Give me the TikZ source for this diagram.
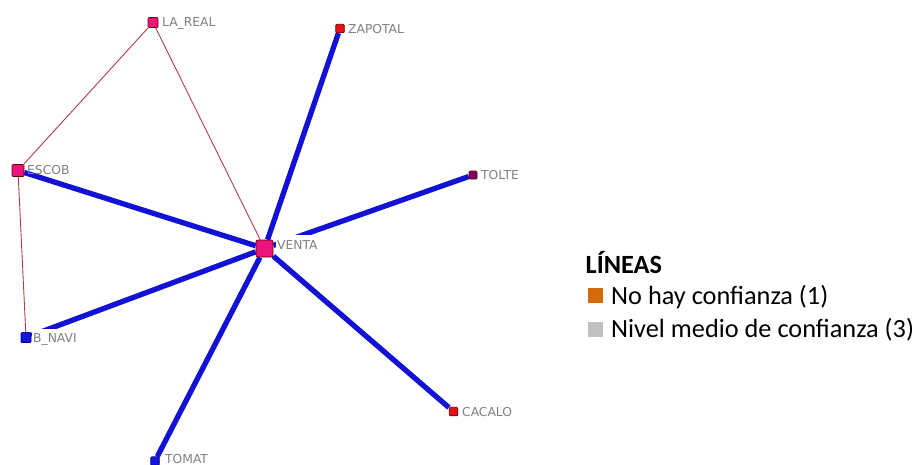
\documentclass[tikz,border=0pt]{standalone}
\usepackage{fontspec}
\setmainfont{DejaVu Sans}
\newfontfamily\legfont{Carlito}
\pgfdeclarelayer{bg}
\pgfsetlayers{bg,main}
\definecolor{magn}{RGB}{235,20,125}
\definecolor{redn}{RGB}{228,18,24}
\definecolor{blun}{RGB}{20,20,225}
\definecolor{purn}{RGB}{128,0,100}
\definecolor{tie}{RGB}{178,62,72}
\definecolor{strong}{RGB}{18,18,215}
\definecolor{lblgray}{RGB}{128,128,128}
\definecolor{orangeleg}{RGB}{208,106,10}
\definecolor{grayleg}{RGB}{192,192,192}
\tikzset{
  actor/.style={rectangle, inner sep=0pt, draw=black!60!red, line width=0.7pt, rounded corners=1pt},
  lbl/.style={anchor=base west, inner xsep=1pt, inner ysep=0pt, text height=14pt, text depth=1pt,
              fill=white, text=lblgray, font=\fontsize{12.3}{14}\selectfont},
  weak/.style={draw=tie, line width=0.9pt},
  thick/.style={draw=strong, line width=5.3pt},
  legtext/.style={anchor=base west, inner sep=0pt, font=\legfont\fontsize{26.3}{30}\selectfont},
  legsq/.style={rectangle, inner sep=0pt, minimum size=15pt, anchor=north west}
}
\begin{document}
\begin{tikzpicture}[x=1pt,y=-1pt]
\useasboundingbox (0,0) rectangle (921,464);
% actors
\node[actor, fill=magn, minimum size=10pt] (lareal) at (153,22.5) {};
\node[actor, fill=redn, minimum size=8.5pt] (zapotal) at (340,28.5) {};
\node[actor, fill=magn, minimum size=12pt] (escob) at (18,170.5) {};
\node[actor, fill=purn, minimum size=8pt] (tolte) at (473,175) {};
\node[actor, fill=magn, minimum size=17pt, rounded corners=2pt] (venta) at (264.5,248.5) {};
\node[actor, fill=blun, draw=blue!50!black, minimum size=10pt] (bnavi) at (26,337.5) {};
\node[actor, fill=redn, minimum size=8.5pt] (cacalo) at (453.5,411.5) {};
\node[actor, fill=blun, draw=blue!50!black, minimum size=8.5pt] (tomat) at (155,461) {};
% labels
\node[lbl] (l-lareal) at (161,26) {LA\_REAL};
\node[lbl] (l-zapotal) at (347,33) {ZAPOTAL};
\node[lbl, fill=none] (l-escob) at (26,174.5) {ESCOB};
\node[lbl] (l-tolte) at (480,179.5) {TOLTE};
\node[lbl] (l-venta) at (276,249) {VENTA};
\node[lbl] (l-bnavi) at (32,342.5) {B\_NAVI};
\node[lbl] (l-cacalo) at (461,416) {CACALO};
\node[lbl] (l-tomat) at (164,463.5) {TOMAT};
% connectors
\begin{pgfonlayer}{bg}
\draw[weak] (lareal) -- (escob);
\draw[weak] (lareal) -- (venta);
\draw[weak] (escob) -- (bnavi);
\draw[thick] (venta) -- (zapotal);
\draw[thick] (venta) -- (tolte);
\draw[thick] (venta) -- (escob);
\draw[thick] (venta) -- (bnavi);
\draw[thick] (venta) -- (cacalo);
\draw[thick] (venta) -- (tomat);
\end{pgfonlayer}
% legend
\node[legtext, font=\legfont\bfseries\fontsize{26.3}{30}\selectfont] (legtitle) at (585.5,273) {LÍNEAS};
\node[legsq, fill=orangeleg] (sq1) at (588,288) {};
\node[legtext] (leg1) at (611,304) {No hay confianza (1)};
\node[legsq, fill=grayleg] (sq2) at (588,322) {};
\node[legtext] (leg2) at (611,337.5) {Nivel medio de confianza (3)};
\end{tikzpicture}
\end{document}
